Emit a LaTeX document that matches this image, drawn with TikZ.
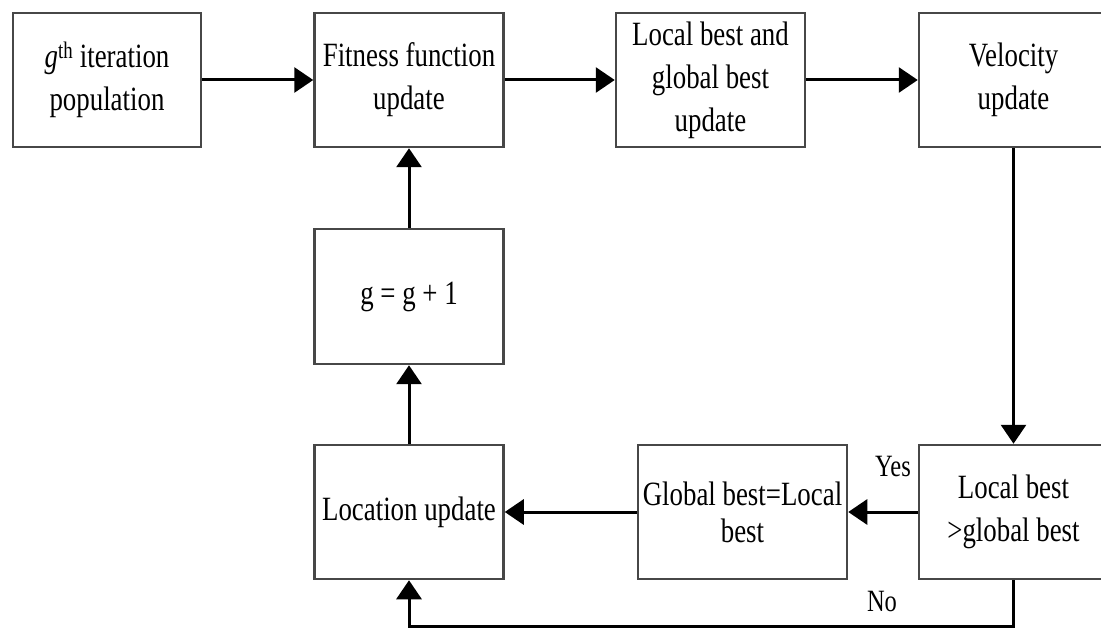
\documentclass[tikz,border=0pt]{standalone}
\usepackage{fontspec}
\setmainfont{Liberation Serif}[FakeStretch=0.79]
\usetikzlibrary{arrows.meta}
\begin{document}
\begin{tikzpicture}[x=1pt,y=-1pt,
  box/.style={draw=black!72, line width=2.5pt, fill=white, minimum width=189pt,
    minimum height=134pt, inner sep=0pt, align=center,
    font=\fontsize{34}{43}\selectfont},
  conn/.style={line width=3pt, -{Triangle[length=19pt,width=25pt]}},
  lbl/.style={font=\fontsize{31}{34}\selectfont, inner sep=0pt}]
\useasboundingbox (0,0) rectangle (1101,628);
\node[box, minimum width=188pt] (b1) at (107,80) {\textit{g}\textsuperscript{th} iteration\\population};
\node[box] (b2) at (409,80) {Fitness function\\update};
\node[box] (b3) at (710.5,80) {Local best and\\global best\\update};
\node[box] (b4) at (1013.5,80) {Velocity\\update};
\node[box, minimum height=135pt] (g) at (409,296.5) {g = g + 1};
\node[box] (loc) at (409,512) {Location update};
\node[box, minimum width=209pt, font=\fontsize{34}{37}\selectfont] (gb) at (742.5,512) {Global best=Local\\best};
\node[box] (lb) at (1013.5,512) {Local best\\>global best};
\coordinate (c1) at (1013.5,626);
\coordinate (c2) at (409,626);
\draw[conn] (b1) -- (b2);
\draw[conn] (b2) -- (b3);
\draw[conn] (b3) -- (b4);
\draw[conn] (b4) -- (lb);
\draw[conn] (lb) -- (gb);
\draw[conn] (gb) -- (loc);
\draw[conn] (loc) -- (g);
\draw[conn] (g) -- (b2);
\draw[conn] (lb.south) -- (c1) -- (c2) -- (loc.south);
\node[lbl] (yes) at (893,467) {Yes};
\node[lbl] (no) at (882,602) {No};
\end{tikzpicture}
\end{document}
